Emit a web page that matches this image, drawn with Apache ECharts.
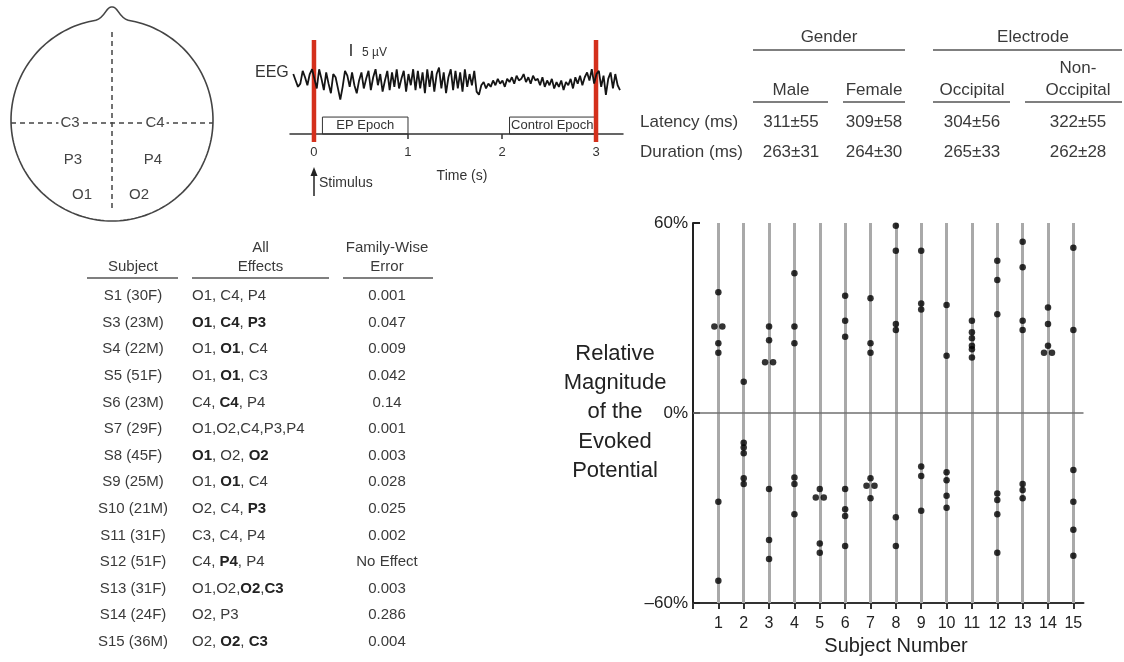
<!DOCTYPE html>
<html><head><meta charset="utf-8">
<script src="https://cdn.jsdelivr.net/npm/echarts@6/dist/echarts.min.js"></script>
<style>html,body{margin:0;padding:0;background:#fff}#c{width:1124px;height:662px}</style>
</head><body><div id="c"></div>
<script>
// ---------------- DATA ----------------
const subjects = [1,2,3,4,5,6,7,8,9,10,11,12,13,14,15];
const magnitudes = [
  [38.1, 27.3, 27.3, 22.0, 19.0, -28.0, -53.0],
  [9.9, -9.4, -10.9, -12.7, -20.6, -22.4],
  [27.3, 23.0, 16.0, 16.0, -24.0, -40.1, -46.1],
  [44.1, 27.3, 22.0, -20.4, -22.4, -32.0],
  [-24.0, -26.7, -26.7, -41.2, -44.1],
  [37.0, 29.1, 24.1, -24.0, -30.4, -32.5, -42.0],
  [36.2, 22.0, 19.0, -20.6, -23.0, -23.0, -26.9],
  [59.1, 51.2, 28.1, 26.2, -32.9, -42.0],
  [51.2, 34.6, 32.7, -16.9, -19.9, -30.9],
  [34.1, 18.1, -18.7, -21.2, -26.1, -29.9],
  [29.1, 25.5, 23.6, 21.2, 20.1, 17.5],
  [48.1, 42.0, 31.2, -25.4, -27.5, -32.0, -44.1],
  [54.1, 46.0, 29.1, 26.2, -22.4, -24.3, -26.9],
  [33.3, 28.1, 21.2, 19.0, 19.0],
  [52.2, 26.2, -18.0, -28.0, -36.9, -45.1]
];
const yTicks = [-60, 0, 60];
const yAxisTitle = ['Relative', 'Magnitude', 'of the', 'Evoked', 'Potential'];
const xAxisTitle = 'Subject Number';

const timeTicks = [0, 1, 2, 3];
const eegStart = -0.22, eegStep = 0.025;
const eegValues = [
  5, 1, -3, -1, 7, 3, -2, 5, 8,
  2, -4, 8, 2, -5, 6, -1, -7, 5, 3, -4, -11, -3, 7, 4, -3, 6, -2,
  -7, 1, 6, -4, 2, 7, -5, 3, 8, -2, 5, -6, 1, 7, -5, 6, -3, 8, -4, 2,
  7, -6, 5, -2, 8, -5, 7, -4, 6, -7, 8, -3, 7, -6, 5, 9, -4, 6, -7, 3, 8, -5,
  7, -4, 6, -6, 8, -3, 5, -2, 7, -6,
  -8, -2, 0, -4, -1, -3, 1, -2, 2, -1, 1, -3, 2, 0, 3, -1, 4, 1, 2, 5,
  0, 3, -1, 4, 1, 2, -2, 3, -3, 1, -2, 2, -4, 0, -3, 1, -5, 0, -2, 2, -4, 3, -1, 4, -2, 3,
  6, 1, 8, -1, 5, 7, -3, 4, -8, 2, 6, -4, 5, -2, -5
];
const stimulusTimes = [0, 3];
const epochNames = ['EP Epoch', 'Control Epoch'];
const epochRanges = [[0.09, 1.0], [2.08, 2.99]];

const electrodes = ['C3', 'C4', 'P3', 'P4', 'O1', 'O2'];

const tableHeaders = [['Subject'], ['All', 'Effects'], ['Family-Wise', 'Error']];
const tableSubjects = ['S1 (30F)','S3 (23M)','S4 (22M)','S5 (51F)','S6 (23M)','S7 (29F)','S8 (45F)','S9 (25M)','S10 (21M)','S11 (31F)','S12 (51F)','S13 (31F)','S14 (24F)','S15 (36M)'];
const tableEffects = ['O1, C4, P4','{b|O1}, {b|C4}, {b|P3}','O1, {b|O1}, C4','O1, {b|O1}, C3','C4, {b|C4}, P4','O1,O2,C4,P3,P4','{b|O1}, O2, {b|O2}','O1, {b|O1}, C4','O2, C4, {b|P3}','C3, C4, P4','C4, {b|P4}, P4','O1,O2,{b|O2},{b|C3}','O2, P3','O2, {b|O2}, {b|C3}'];
const tableFWE = ['0.001','0.047','0.009','0.042','0.14','0.001','0.003','0.028','0.025','0.002','No Effect','0.003','0.286','0.004'];

const summaryGroups = ['Gender', 'Electrode'];
const summaryColumns = [['Male'], ['Female'], ['Occipital'], ['Non-', 'Occipital']];
const summaryRowNames = ['Latency (ms)', 'Duration (ms)'];
const latency = ['311\u00b155', '309\u00b158', '304\u00b156', '322\u00b155'];
const duration = ['263\u00b131', '264\u00b130', '265\u00b133', '262\u00b128'];

// ---------------- BUILD ----------------
const FF = '"Liberation Sans", Arial, Helvetica, sans-serif';
const TXT = '#3a3a3a';

function txt(x, y, text, size, o) {
  o = o || {};
  const st = {
    text: text, fontSize: size, fontFamily: FF, fill: o.color || TXT,
    fontWeight: o.bold ? 'bold' : 'normal',
    align: o.align || 'center', verticalAlign: 'middle',
    textAlign: o.align || 'center', textVerticalAlign: 'middle'
  };
  if (o.rich) st.rich = o.rich;
  if (o.bg) { st.backgroundColor = o.bg; st.padding = [0, 2]; }
  return { type: 'text', x: x, y: y, silent: true, z: 10, style: st };
}
function ln(x1, y1, x2, y2, o) {
  o = o || {};
  return { type: 'line', silent: true, z: 5, shape: { x1, y1, x2, y2 },
    style: { stroke: o.color || '#555', lineWidth: o.w || 1.5, lineDash: o.dash || null } };
}

const graphics = [];

// Head diagram
(function () {
  const cx = 112, cy = 120, r = 101;
  const half = 0.16;
  const a0 = -Math.PI / 2 + half, a1 = 1.5 * Math.PI - half;
  const pts = [];
  for (let k = 0; k <= 160; k++) {
    const a = a0 + (a1 - a0) * k / 160;
    pts.push([cx + r * Math.cos(a), cy + r * Math.sin(a)]);
  }
  graphics.push({ type: 'polyline', silent: true, z: 4, shape: { points: pts },
    style: { stroke: '#444', lineWidth: 1.6, fill: null } });
  const L = pts[pts.length - 1], R = pts[0];
  graphics.push({ type: 'bezierCurve', silent: true, z: 4,
    shape: { x1: L[0], y1: L[1], cpx1: cx - 6, cpy1: cy - r - 2, cpx2: cx - 6, cpy2: cy - r - 13, x2: cx, y2: cy - r - 12 },
    style: { stroke: '#444', lineWidth: 1.6, fill: null } });
  graphics.push({ type: 'bezierCurve', silent: true, z: 4,
    shape: { x1: cx, y1: cy - r - 12, cpx1: cx + 6, cpy1: cy - r - 13, cpx2: cx + 6, cpy2: cy - r - 2, x2: R[0], y2: R[1] },
    style: { stroke: '#444', lineWidth: 1.6, fill: null } });
  graphics.push(ln(cx, 32, cx, 212, { dash: [5, 4], color: '#444' }));
  graphics.push(ln(11, 123, 213, 123, { dash: [5, 4], color: '#444' }));
  const pos = [[70, 123], [155, 123], [73, 160], [153, 160], [82, 195], [139, 195]];
  electrodes.forEach((e, i) => graphics.push(txt(pos[i][0], pos[i][1], e, 15, { bg: i < 2 ? '#fff' : null, color: '#444' })));
})();

// EEG panel decorations
graphics.push(txt(255, 73, 'EEG', 16, { align: 'left', color: '#333' }));
graphics.push(txt(351, 52, 'I', 16, { color: '#222' }));
graphics.push(txt(362, 53, '5 \u00b5V', 12, { align: 'left', color: '#333' }));
graphics.push(txt(462, 176, 'Time (s)', 14, { color: '#333' }));
graphics.push(ln(314, 196, 314, 174, { color: '#222', w: 1.5 }));
graphics.push({ type: 'polygon', silent: true, z: 6, shape: { points: [[314, 167], [310.5, 176], [317.5, 176]] }, style: { fill: '#222' } });
graphics.push(txt(319, 183, 'Stimulus', 14, { align: 'left', color: '#333' }));

// Subject table
const colC = [133, 260.5, 387];
tableHeaders.forEach((h, i) => {
  h.forEach((line, k) => {
    const y = 267 - (h.length - 1 - k) * 19;
    graphics.push(txt(colC[i], y, line, 15));
  });
});
graphics.push(ln(87, 278, 178, 278), ln(192, 278, 329, 278), ln(343, 278, 433, 278));
const richB = { b: { fontWeight: 'bold', fontSize: 15, fontFamily: FF, fill: '#222' } };
tableSubjects.forEach((s, i) => {
  const y = 296 + i * 26.6;
  graphics.push(txt(133, y, s, 15));
  graphics.push(txt(192, y, tableEffects[i], 15, { align: 'left', rich: richB }));
  graphics.push(txt(387, y, tableFWE[i], 15));
});

// Summary table
const sumFont = 17;
graphics.push(txt(829, 37, summaryGroups[0], sumFont), txt(1033, 37, summaryGroups[1], sumFont));
graphics.push(ln(753, 50, 905, 50), ln(933, 50, 1122, 50));
const sumC = [791, 874, 972, 1078];
const sumU = [[753, 828], [843, 905], [933, 1010], [1025, 1122]];
summaryColumns.forEach((c, i) => {
  c.forEach((line, k) => graphics.push(txt(sumC[i], 90 - (c.length - 1 - k) * 22, line, sumFont)));
  graphics.push(ln(sumU[i][0], 102, sumU[i][1], 102));
});
graphics.push(txt(640, 122, summaryRowNames[0], sumFont, { align: 'left' }));
graphics.push(txt(640, 152, summaryRowNames[1], sumFont, { align: 'left' }));
latency.forEach((v, i) => graphics.push(txt(sumC[i], 122, v, sumFont)));
duration.forEach((v, i) => graphics.push(txt(sumC[i], 152, v, sumFont)));

// Scatter axis titles
yAxisTitle.forEach((l, k) => graphics.push(txt(615, 354 + k * 29.2, l, 22, { color: '#222' })));
graphics.push(txt(896, 646, xAxisTitle, 20, { color: '#222' }));

// Scatter data with side-by-side offset for identical values
const scatterData = [];
subjects.forEach((s, i) => {
  const vals = magnitudes[i];
  const counts = {}, seen = {};
  vals.forEach(v => counts[v] = (counts[v] || 0) + 1);
  vals.forEach(v => {
    const n = counts[v], k = (seen[v] = (seen[v] || 0) + 1) - 1;
    scatterData.push({ value: [s, v], symbolOffset: [(k - (n - 1) / 2) * 8, 0] });
  });
});

const eegData = eegValues.map((v, i) => [eegStart + i * eegStep, v]);
const eegMin = -32.5, eegMax = 26.3;

const option = {
  animation: false,
  backgroundColor: '#fff',
  grid: [
    { left: 693, top: 223, width: 390.5, height: 380 },
    { left: 290, top: 40, width: 333, height: 94 }
  ],
  xAxis: [
    { gridIndex: 0, type: 'value', min: 0, max: 15.4,
      axisLine: { onZero: false, lineStyle: { color: '#333', width: 2 } },
      axisTick: { customValues: [0].concat(subjects), length: 6, lineStyle: { color: '#333', width: 2 } },
      axisLabel: { customValues: subjects, fontSize: 16, color: '#222', fontFamily: FF, margin: 13 },
      splitLine: { show: false } },
    { gridIndex: 1, type: 'value', min: -0.255, max: 3.287,
      axisLine: { onZero: false, lineStyle: { color: '#333', width: 1.5 } },
      axisTick: { customValues: timeTicks, length: 5, lineStyle: { color: '#333', width: 1.5 } },
      axisLabel: { customValues: timeTicks, fontSize: 13, color: '#333', fontFamily: FF, margin: 12 },
      splitLine: { show: false } }
  ],
  yAxis: [
    { gridIndex: 0, type: 'value', min: yTicks[0], max: yTicks[2], interval: 60,
      axisLine: { show: true, lineStyle: { color: '#222', width: 2 } },
      axisTick: { show: true, inside: true, length: 7, lineStyle: { color: '#222', width: 2 } },
      axisLabel: { fontSize: 17, color: '#222', fontFamily: FF, margin: 5,
        formatter: v => (v < 0 ? '\u2013' + Math.abs(v) : v) + '%' },
      splitLine: { show: false } },
    { gridIndex: 1, type: 'value', min: eegMin, max: eegMax, show: false, splitLine: { show: false } }
  ],
  series: [
    { type: 'line', xAxisIndex: 0, yAxisIndex: 0, data: [[0, 0]], showSymbol: false, z: 1, silent: true,
      markLine: { z: 1, symbol: ['none', 'none'], silent: true, label: { show: false },
        lineStyle: { color: '#a9a9a9', width: 3, type: 'solid' },
        data: subjects.map(s => ({ xAxis: s })).concat([{ yAxis: 0, lineStyle: { color: '#707070', width: 1.5, type: 'solid' } }]) } },
    { type: 'scatter', xAxisIndex: 0, yAxisIndex: 0, data: scatterData, symbol: 'circle', symbolSize: 6.5,
      itemStyle: { color: '#000' }, z: 10 },
    { type: 'custom', xAxisIndex: 1, yAxisIndex: 1, data: stimulusTimes.map(t => [t]), clip: false, z: 2, silent: true,
      renderItem: function (params, api) {
        const top = api.coord([api.value(0), eegMax]);
        const bot = api.coord([api.value(0), eegMin]);
        return { type: 'rect', shape: { x: top[0] - 2.25, y: top[1], width: 4.5, height: bot[1] - top[1] + 8 },
          style: { fill: '#d4301c' } };
      } },
    { type: 'line', xAxisIndex: 1, yAxisIndex: 1, data: [[0, 0]], showSymbol: false, z: 1, silent: true,
      markArea: { z: 1, silent: true,
        itemStyle: { color: 'rgba(0,0,0,0)', borderColor: '#333', borderWidth: 1 },
        label: { show: true, position: 'inside', fontSize: 13, color: '#333', fontFamily: FF },
        data: epochRanges.map((r, i) => [{ name: epochNames[i], coord: [r[0], eegMin] }, { coord: [r[1], eegMin + 10.6] }]) } },
    { type: 'line', xAxisIndex: 1, yAxisIndex: 1, data: eegData, showSymbol: false, z: 4,
      lineStyle: { color: '#151515', width: 1.8 } }
  ],
  graphic: graphics
};
const chart = echarts.init(document.getElementById('c'), null, { renderer: 'canvas' });
chart.setOption(option);
</script></body></html>
